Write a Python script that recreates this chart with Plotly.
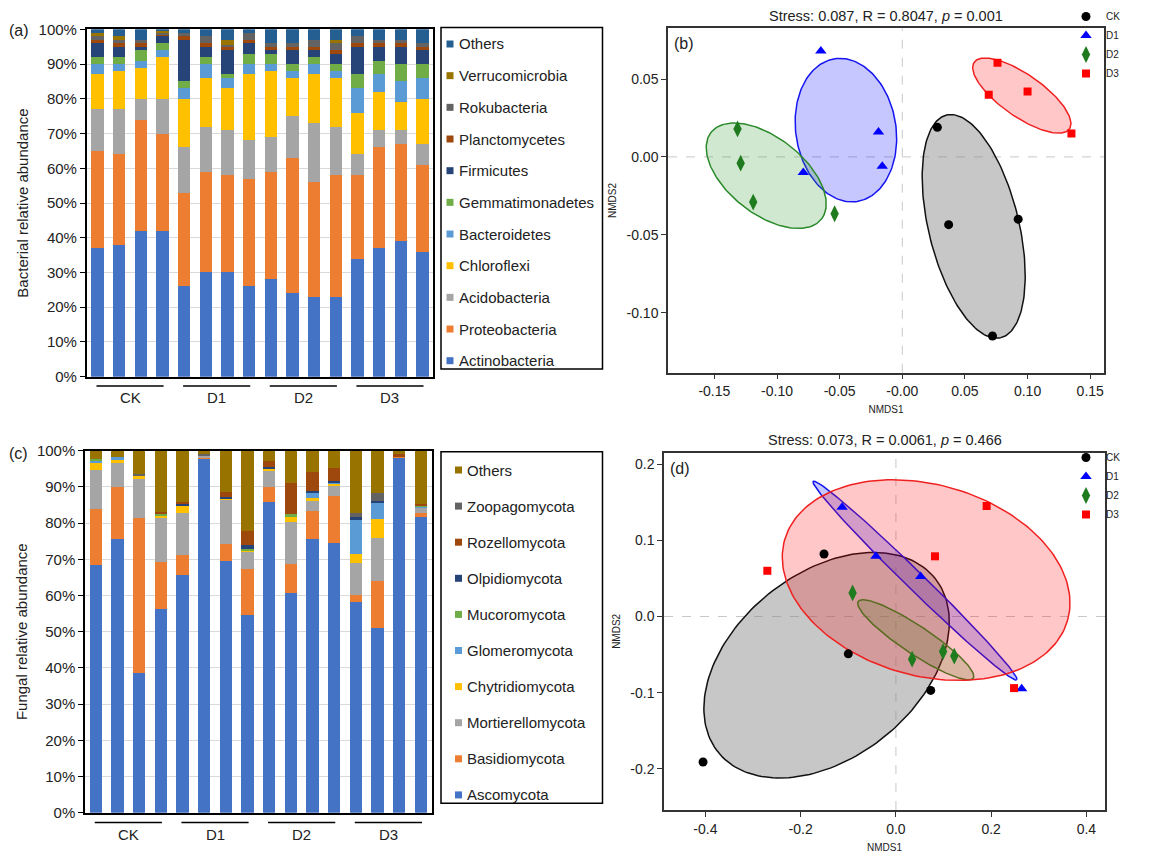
import numpy as np
import plotly.graph_objects as go

W, H = 1151, 860

# ---------------- data ----------------
samples = ["CK-1", "CK-2", "CK-3", "CK-4", "D1-1", "D1-2", "D1-3", "D1-4",
           "D2-1", "D2-2", "D2-3", "D2-4", "D3-1", "D3-2", "D3-3", "D3-4"]
groups = ["CK", "D1", "D2", "D3"]

bac_taxa = ["Actinobacteria", "Proteobacteria", "Acidobacteria", "Chloroflexi", "Bacteroidetes",
            "Gemmatimonadetes", "Firmicutes", "Planctomycetes", "Rokubacteria", "Verrucomicrobia", "Others"]
bac_colors = ["#4472C4", "#ED7D31", "#A5A5A5", "#FFC000", "#5B9BD5",
              "#70AD47", "#264478", "#9E480E", "#636363", "#997300", "#255E91"]
actinobacteria = [37, 38, 42, 42, 26, 30, 30, 26, 28, 24, 23, 23, 34, 37, 39, 36]
proteobacteria = [28, 26, 32, 28, 27, 29, 28, 31, 31, 39, 33, 35, 24, 29, 28, 25]
acidobacteria = [12, 13, 6, 10, 13, 13, 13, 11, 10, 12, 17, 14, 6, 5, 4, 6]
chloroflexi = [10, 11, 9, 12, 14, 14, 12, 19, 19, 11, 14, 14, 12, 11, 8, 13]
bacteroidetes = [3, 2, 2, 2, 3, 4, 3, 3, 2, 2, 3, 2, 7, 5, 6, 6]
gemmatimonadetes = [2, 2, 3, 2, 2, 2, 1, 3, 3, 2, 2, 2, 4, 4, 5, 4]
firmicutes = [4, 3, 1, 2, 12, 3, 7, 3, 1, 4, 2, 3, 8, 4, 5, 4]
planctomycetes = [1, 1, 1, 0.5, 1, 1, 1, 1, 1, 1, 1, 1, 1, 1, 1, 1]
rokubacteria = [1, 1, 1, 0.5, 1, 2, 0.5, 2, 1, 1, 2, 2, 2, 1, 1, 1]
verrucomicrobia = [1, 1, 0, 0.5, 0, 0, 1.5, 0, 0, 0, 0, 1, 0, 0, 0, 0]
bac_others = [1, 2, 3, 0.5, 1, 2, 3, 1, 4, 4, 3, 3, 2, 3, 3, 4]
bac_values = [actinobacteria, proteobacteria, acidobacteria, chloroflexi, bacteroidetes,
              gemmatimonadetes, firmicutes, planctomycetes, rokubacteria, verrucomicrobia, bac_others]

fun_taxa = ["Ascomycota", "Basidiomycota", "Mortierellomycota", "Chytridiomycota", "Glomeromycota",
            "Mucoromycota", "Olpidiomycota", "Rozellomycota", "Zoopagomycota", "Others"]
fun_colors = ["#4472C4", "#ED7D31", "#A5A5A5", "#FFC000", "#5B9BD5",
              "#70AD47", "#264478", "#9E480E", "#636363", "#997300"]
ascomycota = [68.5, 75.7, 38.5, 56.3, 65.6, 97.9, 69.6, 54.6, 85.9, 60.6, 75.5, 74.5, 58.3, 51.0, 98.3, 81.7]
basidiomycota = [15.3, 14.2, 42.8, 12.9, 5.6, 0.3, 4.5, 12.7, 4.1, 8.2, 7.9, 13.0, 1.8, 13.0, 0.3, 1.1]
mortierellomycota = [11.0, 6.8, 11.0, 12.4, 11.7, 0.5, 12.4, 5.0, 4.7, 11.6, 3.0, 3.1, 8.8, 12.0, 0, 1.6]
chytridiomycota = [1.9, 0.8, 0.6, 0.3, 1.7, 0, 0.5, 0.2, 0.4, 1.5, 0.4, 0.3, 2.7, 5.2, 0, 0]
glomeromycota = [0.8, 0.8, 0, 0, 0, 0, 0, 0, 0, 0, 1.7, 0.3, 9.6, 4.5, 0, 0.2]
mucoromycota = [0.3, 0, 0, 0.7, 0, 0, 0, 0.4, 0, 0.5, 0, 0, 0, 0, 0, 0.2]
olpidiomycota = [0, 0, 0, 0, 0.7, 0, 0.3, 1.0, 0.4, 0, 0.4, 0.5, 0.5, 0.5, 0, 0]
rozellomycota = [0, 0, 0, 0.4, 0.6, 0, 1.3, 3.9, 1.7, 8.8, 5.1, 3.5, 0, 0, 0.5, 0.6]
zoopagomycota = [0, 0, 0.6, 0, 0, 0.3, 0, 0, 0, 0, 0, 0, 1.0, 2.2, 0, 0]
fun_others = [2.2, 1.7, 6.5, 17.0, 14.1, 1.0, 11.4, 22.2, 2.8, 8.8, 6.0, 4.8, 17.3, 11.6, 0.9, 14.6]
fun_values = [ascomycota, basidiomycota, mortierellomycota, chytridiomycota, glomeromycota,
              mucoromycota, olpidiomycota, rozellomycota, zoopagomycota, fun_others]

pct_ticks = [0, 10, 20, 30, 40, 50, 60, 70, 80, 90, 100]
pct_labels = ["0%", "10%", "20%", "30%", "40%", "50%", "60%", "70%", "80%", "90%", "100%"]

# NMDS bacteria (b)
b_ck_x = [0.028, 0.037, 0.0925, 0.072]
b_ck_y = [0.019, -0.0435, -0.040, -0.115]
b_d1_x = [-0.065, -0.019, -0.016, -0.079]
b_d1_y = [0.068, 0.016, -0.006, -0.010]
b_d2_x = [-0.1315, -0.129, -0.119, -0.054]
b_d2_y = [0.018, -0.004, -0.029, -0.0365]
b_d3_x = [0.076, 0.069, 0.100, 0.135]
b_d3_y = [0.0605, 0.040, 0.042, 0.015]
# ellipses: centre, major half-axis vector, minor half-axis vector
b_ell_center = [(0.057, -0.0446), (-0.045, 0.0172), (-0.1086, -0.0121), (0.0954, 0.0394)]
b_ell_major = [(0.0216, -0.0715), (0.009, -0.0458), (0.0441, -0.0278), (0.038, -0.0214)]
b_ell_minor = [(0.035, 0.0068), (0.0395, 0.0050), (-0.0187, -0.0193), (-0.0097, -0.0111)]
b_xticks = [-0.15, -0.10, -0.05, 0.0, 0.05, 0.10, 0.15]
b_xlabels = ["-0.15", "-0.10", "-0.05", "-0.00", "0.05", "0.10", "0.15"]
b_yticks = [-0.10, -0.05, 0.0, 0.05]
b_ylabels = ["-0.10", "-0.05", "0.00", "0.05"]

# NMDS fungi (d)
d_ck_x = [-0.151, -0.100, 0.073, -0.405]
d_ck_y = [0.082, -0.049, -0.097, -0.191]
d_d1_x = [-0.113, -0.042, 0.052, 0.264]
d_d1_y = [0.1435, 0.079, 0.0525, -0.095]
d_d2_x = [-0.091, 0.034, 0.099, 0.1225]
d_d2_y = [0.031, -0.056, -0.046, -0.052]
d_d3_x = [-0.270, 0.082, 0.1905, 0.248]
d_d3_y = [0.060, 0.079, 0.145, -0.094]
d_ell_center = [(-0.1456, -0.064), (0.040, 0.0471), (0.0416, -0.0306), (0.0634, 0.0478)]
d_ell_major = [(0.2275, 0.1143), (0.2137, -0.1302), (0.1208, -0.0503), (0.297, -0.0529)]
d_ell_minor = [(0.121, -0.0941), (-0.0132, -0.0085), (-0.0164, -0.0153), (-0.055, -0.1206)]
d_xticks = [-0.4, -0.2, 0.0, 0.2, 0.4]
d_xlabels = ["-0.4", "-0.2", "0.0", "0.2", "0.4"]
d_yticks = [-0.2, -0.1, 0.0, 0.1, 0.2]
d_ylabels = ["-0.2", "-0.1", "0.0", "0.1", "0.2"]

grp_colors = ["black", "blue", "#1E7B1E", "red"]
grp_fill = ["rgba(130,130,130,0.45)", "rgba(0,0,255,0.22)", "rgba(40,150,40,0.22)", "rgba(255,0,0,0.22)"]
grp_line = ["#111111", "#1515F0", "#2A8A2A", "#F02020"]
grp_symbols = ["circle", "triangle-up", "diamond-tall", "square"]
grp_sizes = [9, 10, 12, 8]

FONT = "Liberation Sans, Arial, sans-serif"
TXT = "#222222"

# ---------------- layout helpers ----------------
def fx(p):
    return p / W

def fy(p):
    return 1 - p / H

fig = go.Figure()

# bars (a)
for name, vals, col in zip(bac_taxa, bac_values, bac_colors):
    fig.add_trace(go.Bar(x=samples, y=vals, name=name, marker=dict(color=col, line=dict(width=0)),
                         xaxis="x", yaxis="y", showlegend=False))
# bars (c)
for name, vals, col in zip(fun_taxa, fun_values, fun_colors):
    fig.add_trace(go.Bar(x=samples, y=vals, name=name, marker=dict(color=col, line=dict(width=0)),
                         xaxis="x2", yaxis="y2", showlegend=False))

t = np.linspace(0, 2 * np.pi, 181)

def add_nmds(xs, ys, centers, majors, minors, xa, ya, leg):
    for g in range(4):
        cx, cy = centers[g]
        ux, uy = majors[g]
        vx, vy = minors[g]
        ex = cx + np.cos(t) * ux + np.sin(t) * vx
        ey = cy + np.cos(t) * uy + np.sin(t) * vy
        fig.add_trace(go.Scatter(x=ex, y=ey, mode="lines", fill="toself", fillcolor=grp_fill[g],
                                 line=dict(color=grp_line[g], width=1.5), showlegend=False,
                                 hoverinfo="skip", xaxis=xa, yaxis=ya))
    for g in range(4):
        fig.add_trace(go.Scatter(x=xs[g], y=ys[g], mode="markers", name=groups[g],
                                 marker=dict(symbol=grp_symbols[g], size=grp_sizes[g], color=grp_colors[g],
                                             line=dict(width=0)),
                                 xaxis=xa, yaxis=ya, legend=leg))

add_nmds([b_ck_x, b_d1_x, b_d2_x, b_d3_x], [b_ck_y, b_d1_y, b_d2_y, b_d3_y],
         b_ell_center, b_ell_major, b_ell_minor, "x3", "y3", "legend")
add_nmds([d_ck_x, d_d1_x, d_d2_x, d_d3_x], [d_ck_y, d_d1_y, d_d2_y, d_d3_y],
         d_ell_center, d_ell_major, d_ell_minor, "x4", "y4", "legend2")

bar_x = dict(range=[-0.5, 15.5], showticklabels=False, showline=True, linecolor="black", linewidth=1.5,
             mirror=True, ticks="", showgrid=False, zeroline=False, automargin=False)
bar_y = dict(range=[0, 100], tickvals=pct_ticks, ticktext=pct_labels, showgrid=True, gridcolor="#D9D9D9",
             gridwidth=1, showline=True, linecolor="black", linewidth=1.5, mirror=True, ticks="outside",
             ticklen=5, tickcolor="black", tickfont=dict(size=15, color=TXT), zeroline=False, automargin=False)

sc_common = dict(showline=True, linecolor="#333", linewidth=1.5, mirror=True, ticks="outside", ticklen=5,
                 tickcolor="#333", tickfont=dict(size=14, color=TXT), showgrid=False, zeroline=False,
                 automargin=False)

fig.update_layout(
    template="none",
    width=W, height=H, margin=dict(l=0, r=0, t=0, b=0, pad=0), autosize=False,
    paper_bgcolor="white", plot_bgcolor="white",
    font=dict(family=FONT, color=TXT),
    barmode="stack", bargap=0.43,
    xaxis=dict(domain=[fx(86.7), fx(433.3)], anchor="y", **bar_x),
    yaxis=dict(domain=[fy(376.7), fy(29.3)], anchor="x",
               title=dict(text="Bacterial relative abundance", font=dict(size=15), standoff=6), **bar_y),
    xaxis2=dict(domain=[fx(85), fx(431.7)], anchor="y2", **bar_x),
    yaxis2=dict(domain=[fy(812.7), fy(450.7)], anchor="x2",
                title=dict(text="Fungal relative abundance", font=dict(size=15), standoff=6), **bar_y),
    xaxis3=dict(domain=[fx(668), fx(1104)], anchor="y3", range=[-0.187, 0.161], tickvals=b_xticks,
                ticktext=b_xlabels, title=dict(text="NMDS1", font=dict(size=10), standoff=8), **sc_common),
    yaxis3=dict(domain=[fy(372.7), fy(28.3)], anchor="x3", range=[-0.1386, 0.0826], tickvals=b_yticks,
                ticktext=b_ylabels, title=dict(text="NMDS2", font=dict(size=10), standoff=8), **sc_common),
    xaxis4=dict(domain=[fx(664), fx(1105)], anchor="y4", range=[-0.487, 0.439], tickvals=d_xticks,
                ticktext=d_xlabels, title=dict(text="NMDS1", font=dict(size=10), standoff=8), **sc_common),
    yaxis4=dict(domain=[fy(810), fy(452.7)], anchor="x4", range=[-0.254, 0.215], tickvals=d_yticks,
                ticktext=d_ylabels, title=dict(text="NMDS2", font=dict(size=10), standoff=8), **sc_common),
    legend=dict(x=fx(1066), y=fy(2), xanchor="left", yanchor="top", bgcolor="rgba(0,0,0,0)",
                traceorder="normal", font=dict(size=10, color=TXT), tracegroupgap=0, itemwidth=30,
                borderwidth=0),
    legend2=dict(x=fx(1066), y=fy(443), xanchor="left", yanchor="top", bgcolor="rgba(0,0,0,0)",
                 traceorder="normal", font=dict(size=10, color=TXT), tracegroupgap=0, itemwidth=30,
                 borderwidth=0),
    showlegend=True,
)

shapes = []
annotations = []

# group underlines and labels
for xa in ["x", "x2"]:
    ya = "y" if xa == "x" else "y2"
    for gi, g in enumerate(groups):
        shapes.append(dict(type="line", xref=xa, yref=ya + " domain", x0=gi * 4 - 0.05, x1=gi * 4 + 3.05,
                           y0=-0.027, y1=-0.027, line=dict(color="black", width=1.5)))
        annotations.append(dict(xref=xa, yref=ya + " domain", x=gi * 4 + 1.5, y=-0.06, text=g,
                                showarrow=False, yanchor="middle", font=dict(size=15, color=TXT)))

# boxed legends for the stacked bars (top entry = last layer)
def box_legend(names, colors, box, first_row, step, icon_x, text_x, icon=7):
    x0, y0, x1, y1 = box
    shapes.append(dict(type="rect", xref="paper", yref="paper", x0=fx(x0), x1=fx(x1), y0=fy(y1), y1=fy(y0),
                       line=dict(color="black", width=1.5), fillcolor="rgba(0,0,0,0)"))
    n = len(names)
    for k in range(n):
        i = n - 1 - k
        yc = first_row + k * step
        shapes.append(dict(type="rect", xref="paper", yref="paper", x0=fx(icon_x), x1=fx(icon_x + icon),
                           y0=fy(yc + icon / 2), y1=fy(yc - icon / 2), line=dict(width=0),
                           fillcolor=colors[i]))
        annotations.append(dict(xref="paper", yref="paper", x=fx(text_x), y=fy(yc), text=names[i],
                                showarrow=False, xanchor="left", yanchor="middle",
                                font=dict(size=15, color=TXT)))

box_legend(bac_taxa, bac_colors, (441, 27.5, 602.5, 369), 44, 31.67, 446.5, 457)
box_legend(fun_taxa, fun_colors, (441, 451.7, 602.5, 803.3), 470, 36.1, 455, 465)

# dashed zero lines in NMDS plots
for xa, ya in [("x3", "y3"), ("x4", "y4")]:
    shapes.append(dict(type="line", xref=xa, yref=ya + " domain", x0=0, x1=0, y0=0, y1=1,
                       line=dict(color="#C8C8C8", width=1, dash="dash"), layer="below"))
    shapes.append(dict(type="line", xref=xa + " domain", yref=ya, x0=0, x1=1, y0=0, y1=0,
                       line=dict(color="#C8C8C8", width=1, dash="dash"), layer="below"))

# panel labels and titles
annotations += [
    dict(xref="paper", yref="paper", x=fx(7), y=fy(31), text="(a)", showarrow=False, xanchor="left",
         yanchor="middle", font=dict(size=16, color=TXT)),
    dict(xref="paper", yref="paper", x=fx(7), y=fy(453), text="(c)", showarrow=False, xanchor="left",
         yanchor="middle", font=dict(size=16, color=TXT)),
    dict(xref="x3 domain", yref="y3 domain", x=0.01, y=0.985, text="(b)", showarrow=False, xanchor="left",
         yanchor="top", font=dict(size=16, color=TXT)),
    dict(xref="x4 domain", yref="y4 domain", x=0.01, y=0.985, text="(d)", showarrow=False, xanchor="left",
         yanchor="top", font=dict(size=16, color=TXT)),
    dict(xref="x3 domain", yref="paper", x=0.5, y=fy(16), text="Stress: 0.087, R = 0.8047, <i>p</i> = 0.001",
         showarrow=False, yanchor="middle", font=dict(size=14.5, color=TXT)),
    dict(xref="x4 domain", yref="paper", x=0.5, y=fy(440), text="Stress: 0.073, R = 0.0061, <i>p</i> = 0.466",
         showarrow=False, yanchor="middle", font=dict(size=14.5, color=TXT)),
]

fig.update_layout(shapes=shapes, annotations=annotations)
fig.write_html("out.html", config={"displayModeBar": False},
               post_script="document.body.style.margin='0px';")
